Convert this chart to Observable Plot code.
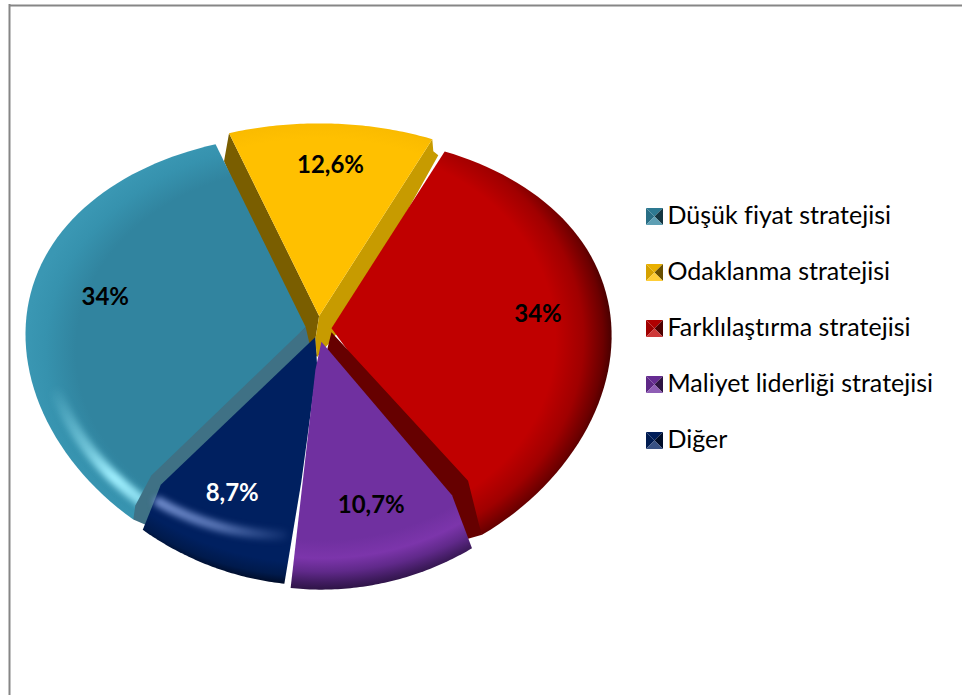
<!DOCTYPE html>
<html><head><meta charset="utf-8">
<script src="https://cdn.jsdelivr.net/npm/d3@7"></script>
<script src="https://cdn.jsdelivr.net/npm/@observablehq/plot@0.6"></script>
<style>html,body{margin:0;padding:0;background:#fff;overflow:hidden}svg{display:block}svg text{font-variant-ligatures:none}</style>
</head><body>
<script>
const categories = ["Düşük fiyat stratejisi","Odaklanma stratejisi","Farklılaştırma stratejisi","Maliyet liderliği stratejisi","Diğer"];
const shares = [34, 12.6, 34, 10.7, 8.7];
const shareLabels = ["34%","12,6%","34%","10,7%","8,7%"];
const baseColors = ["#31849F","#FFC000","#C00000","#7030A0","#002060"];
const labelColors = ["#000","#000","#000","#000","#fff"];

// layout
const FONT = "Lato, Carlito, sans-serif";
const RX = 280, RY = 224, CX = 318, CY = 328.5;
const explode = [13,13,13,13,9];
const labelRadius = [.72,.75,.74,.69,.69];
const labelNudge = [[-2,-5],[2,0],[0,-4],[6,2],[-10,3]];
const startAngle = -142.4 * Math.PI/180;

const pie = d3.pie().sort(null).value(d=>d).startAngle(startAngle).endAngle(startAngle+2*Math.PI)(shares);
const project = (a,f=1)=>{
  const u=f*Math.sin(a), v=f*Math.cos(a);
  return {x:u*(1-.035*v-.03*v*v), y:v*(1-(v>0?.14:.107)*v)};
};
const tips = pie.map((s,i)=>{
  const m=(s.startAngle+s.endAngle)/2;
  return {x:explode[i]*Math.sin(m)/RX, y:explode[i]*Math.cos(m)/RY};
});
const off=(p,dx,dy)=>({x:p.x+dx/RX,y:p.y-dy/RY});
const at=(i,a,f=1)=>{const p=project(a,f);return {x:tips[i].x+p.x,y:tips[i].y+p.y};};
const arc=(i,a0,a1,f=1,f1=f)=>d3.range(0,61).map(k=>at(i,a0+(a1-a0)*k/60,f+(f1-f)*k/60));
const deg=d=>d*Math.PI/180;
const poly=(pts,fill,o={})=>Plot.line(pts,{x:"x",y:"y",fill,stroke:"none",...o});
const corner=(i,end)=>at(i,end?pie[i].endAngle:pie[i].startAngle);
const A=i=>arc(i,pie[i].startAngle,pie[i].endAngle);

// slice outlines, with the bevelled bulge of the cut edges
const outline=[
  [tips[0],...A(0)],
  [tips[1],...A(1)],
  [tips[2],...A(2)],
  [off(tips[3],0,0),off(corner(3,false),-20,-53),...A(3),off(tips[3],-6,28)],
  [tips[4],off(tips[4],2,28),off(corner(4,false),17,-102),...A(4),off(corner(4,true),18,-45)]
];

function defs(_i,s){
  const d=d3.create("svg:defs");
  const radial=(id,i,stops,dy=24,ry=RY)=>{
    const g=d.append("radialGradient").attr("id",id).attr("gradientUnits","userSpaceOnUse")
      .attr("cx",0).attr("cy",0).attr("r",1)
      .attr("gradientTransform",`translate(${s.x(tips[i].x)},${s.y(tips[i].y)+dy}) scale(${RX},${ry})`);
    stops.forEach(([o,c])=>g.append("stop").attr("offset",o).attr("stop-color",c));
  };
  radial("g0",0,[[0,"#31849F"],[.82,"#31849F"],[.93,"#3692AE"],[1,"#3A97B3"]]);
  radial("g1",1,[[0,"#FFC000"],[.9,"#FFC000"],[.97,"#FABB00"],[1,"#E8AE00"]]);
  radial("g2",2,[[0,"#C00000"],[.8,"#C00000"],[.9,"#A00000"],[.97,"#6C0000"],[1,"#4A0000"]],10,240);
  radial("g3",3,[[0,"#7030A0"],[.78,"#7030A0"],[.86,"#7C35AB"],[.92,"#60298A"],[.97,"#3F1B5E"],[1,"#2E1446"]]);
  radial("g4",4,[[0,"#002060"],[.9,"#002060"],[.96,"#001A4C"],[1,"#000C28"]]);
  const lin=(id,y1,y2,color,stops,x1=0,x2=0)=>{
    const g=d.append("linearGradient").attr("id",id).attr("gradientUnits","userSpaceOnUse")
      .attr("x1",x1).attr("x2",x2).attr("y1",y1).attr("y2",y2);
    stops.forEach(([o,a])=>g.append("stop").attr("offset",o).attr("stop-color",color).attr("stop-opacity",a));
  };
  lin("hl0",385,500,"#A0F0FF",[[0,0],[.55,.55],[.8,1],[1,.8]]);
  lin("hl4",0,0,"#7490D0",[[0,1],[.5,.75],[1,.1]],150,285);
  return d.node();
}

// cut faces
const yL=corner(1,false), yR=corner(1,true);
const facesYellow=[
  poly([yL,tips[1],off(tips[1],-4,25),off(tips[1],-2,41),off(tips[1],-22,14),off(yL,-5,28)],"#7A5E00"),
  poly([yR,off(yR,1,12),off(yR,6,16),off(tips[1],25,8),off(tips[1],11,26),off(tips[1],-2,41),off(tips[1],-4,25),tips[1]],"#C79B00")
];
const tC=corner(0,false), rC=corner(2,true);
const faceTeal=poly([tips[0],off(tC,18,-44),off(tC,2,-14),tC,off(tC,14,6),off(tips[0],6,26)],"#3F7185");
const faceRed=poly([off(tips[2],0,4),off(rC,-14,-54),off(rC,-3,-10),rC,off(rC,-14,4),off(tips[2],-6,28)],"#660000");

// legend
const legendY=i=>216+56*i, SW=8.5, LX=654;
const toU=(x,y)=>({x:(x-CX)/RX,y:(CY-y)/RY});
const legendSw=(i)=>{
  const c=d3.color(baseColors[i]);
  const C=toU(LX,legendY(i));
  const a=toU(LX-SW,legendY(i)-SW),b=toU(LX+SW,legendY(i)-SW),e=toU(LX+SW,legendY(i)+SW),f=toU(LX-SW,legendY(i)+SW);
  return [
    poly([a,C,f],c.darker(.5).formatHex()),
    poly([a,b,C],c.darker(.25).formatHex()),
    poly([b,e,C],c.darker(2.5).formatHex()),
    poly([f,e,C],d3.interpolateRgb(baseColors[i],"#fff")(.22))
  ];
};
const legendRows=categories.map((c,i)=>({c,...toU(667,legendY(i)-1)}));
const shareRows=shareLabels.map((t,i)=>{
  const m=(pie[i].startAngle+pie[i].endAngle)/2;
  return {t,fill:labelColors[i],...off(at(i,m,labelRadius[i]),...labelNudge[i])};
});
const frameTL=toU(9,5), frameBR=toU(962,695);

const chart=Plot.plot({
  width:962,height:695,margin:0,
  x:{domain:[(0-CX)/RX,(962-CX)/RX],range:[0,962],axis:null},
  y:{domain:[CY/RY,(CY-695)/RY],range:[0,695],axis:null},
  marks:[
    defs,
    Plot.ruleY([frameTL.y],{x1:frameTL.x,x2:frameBR.x,stroke:"#868686",strokeWidth:2}),
    Plot.ruleX([frameTL.x],{y1:frameTL.y+1/RY,y2:frameBR.y,stroke:"#868686",strokeWidth:2}),
    ...facesYellow,
    poly(outline[1],"url(#g1)"),
    poly(outline[0],"url(#g0)"),
    Plot.line(arc(0,deg(-141),deg(-108),.925),{x:"x",y:"y",stroke:"url(#hl0)",strokeWidth:12,imageFilter:"blur(3px)"}),
    faceTeal,
    poly(outline[2],"url(#g2)"),
    faceRed,
    poly(outline[4],"url(#g4)"),
    Plot.line(arc(4,deg(219),deg(188),.88,.82),{x:"x",y:"y",stroke:"url(#hl4)",strokeWidth:10,imageFilter:"blur(3px)"}),
    poly(outline[3],"url(#g3)"),
    Plot.text(shareRows,{x:"x",y:"y",text:"t",fill:"fill",fontFamily:FONT,fontWeight:"bold",fontSize:24}),
    ...categories.flatMap((c,i)=>legendSw(i)),
    Plot.text(legendRows,{x:"x",y:"y",text:"c",textAnchor:"start",fill:"#000",fontFamily:FONT,fontSize:25})
  ]
});
document.body.appendChild(chart);
</script>
</body></html>
